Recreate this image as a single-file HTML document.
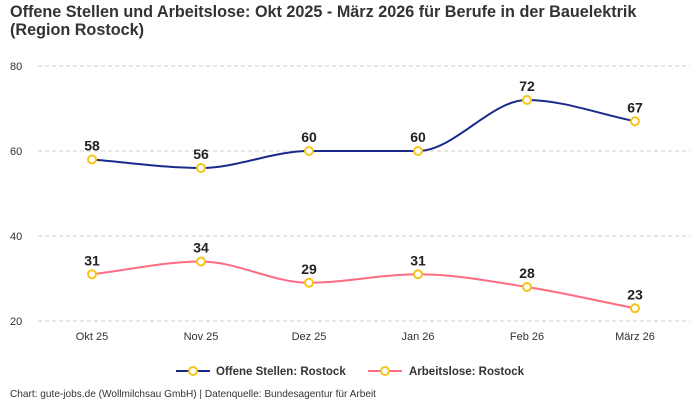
<!DOCTYPE html>
<html><head><meta charset="utf-8"><style>
body{margin:0;background:#fff;font-family:"Liberation Sans",sans-serif;}
svg{display:block}
</style></head><body>
<svg width="700" height="400" xmlns="http://www.w3.org/2000/svg" font-family="Liberation Sans, sans-serif">
<text x="10" y="17" font-size="16.2" font-weight="bold" fill="#333">Offene Stellen und Arbeitslose: Okt 2025 - März 2026 für Berufe in der Bauelektrik</text>
<text x="10" y="35" font-size="16.2" font-weight="bold" fill="#333">(Region Rostock)</text>
<g stroke="#ccc" stroke-dasharray="4,3" stroke-width="1">
<line x1="38" x2="690" y1="66" y2="66"/><line x1="38" x2="690" y1="151" y2="151"/>
<line x1="38" x2="690" y1="236" y2="236"/><line x1="38" x2="690" y1="321" y2="321"/>
</g>
<g font-size="11" fill="#333">
<text x="10" y="70">80</text><text x="10" y="155">60</text><text x="10" y="240">40</text><text x="10" y="325">20</text>
</g>
<g font-size="11" fill="#333" text-anchor="middle">
<text x="92" y="340">Okt 25</text><text x="201" y="340">Nov 25</text><text x="309" y="340">Dez 25</text>
<text x="418" y="340">Jan 26</text><text x="527" y="340">Feb 26</text><text x="635" y="340">März 26</text>
</g>
<path id="p1" fill="none" stroke="#1a2a8a" stroke-width="2"/>
<path id="p2" fill="none" stroke="#ff6b81" stroke-width="2"/>
<g id="marks"></g>
<g font-size="11.5" font-weight="bold" fill="#333">
<line x1="176" x2="210" y1="371" y2="371" stroke="#1a2a8a" stroke-width="2"/>
<circle cx="193" cy="371" r="4" fill="#fff" stroke="#f5c518" stroke-width="2"/>
<text x="216" y="375">Offene Stellen: Rostock</text>
<line x1="368" x2="402" y1="371" y2="371" stroke="#ff6b81" stroke-width="2"/>
<circle cx="385" cy="371" r="4" fill="#fff" stroke="#f5c518" stroke-width="2"/>
<text x="409" y="375">Arbeitslose: Rostock</text>
</g>
<text x="10" y="397" font-size="10.1" fill="#333">Chart: gute-jobs.de (Wollmilchsau GmbH) | Datenquelle: Bundesagentur für Arbeit</text>
</svg>
<script>
var xs=[92,201,309,418,527,635];
function Y(v){return 321-(v-20)*4.25;}
function mono(pts){
var n=pts.length,d=[],m=[];
for(var i=0;i<n-1;i++)d.push((pts[i+1][1]-pts[i][1])/(pts[i+1][0]-pts[i][0]));
m[0]=d[0];m[n-1]=d[n-2];
for(var i=1;i<n-1;i++){m[i]=(d[i-1]*d[i]<=0)?0:(function(){var h0=pts[i][0]-pts[i-1][0],h1=pts[i+1][0]-pts[i][0];var p=(d[i-1]*h1+d[i]*h0)/(h0+h1);var s=(Math.sign(d[i-1])+Math.sign(d[i]))*Math.min(Math.abs(d[i-1]),Math.abs(d[i]),0.5*Math.abs(p));return s;})();}
var s="M"+pts[0][0]+","+pts[0][1];
for(var i=0;i<n-1;i++){var h=(pts[i+1][0]-pts[i][0])/3;
s+=" C"+(pts[i][0]+h)+","+(pts[i][1]+m[i]*h)+" "+(pts[i+1][0]-h)+","+(pts[i+1][1]-m[i+1]*h)+" "+pts[i+1][0]+","+pts[i+1][1];}
return s;}
var a=[58,56,60,60,72,67],b=[31,34,29,31,28,23];
var pa=xs.map(function(x,i){return[x,Y(a[i])]}),pb=xs.map(function(x,i){return[x,Y(b[i])]});
document.getElementById('p1').setAttribute('d',mono(pa));
document.getElementById('p2').setAttribute('d',mono(pb));
var g=document.getElementById('marks'),h='';
[[pa,a],[pb,b]].forEach(function(q){q[0].forEach(function(p,i){
h+='<circle cx="'+p[0]+'" cy="'+p[1]+'" r="4" fill="#fff" stroke="#f5c518" stroke-width="2"/>';
h+='<text x="'+p[0]+'" y="'+(p[1]-9)+'" font-size="14" font-weight="bold" fill="#222" text-anchor="middle">'+q[1][i]+'</text>';});});
g.innerHTML=h;
</script>
</body></html>
